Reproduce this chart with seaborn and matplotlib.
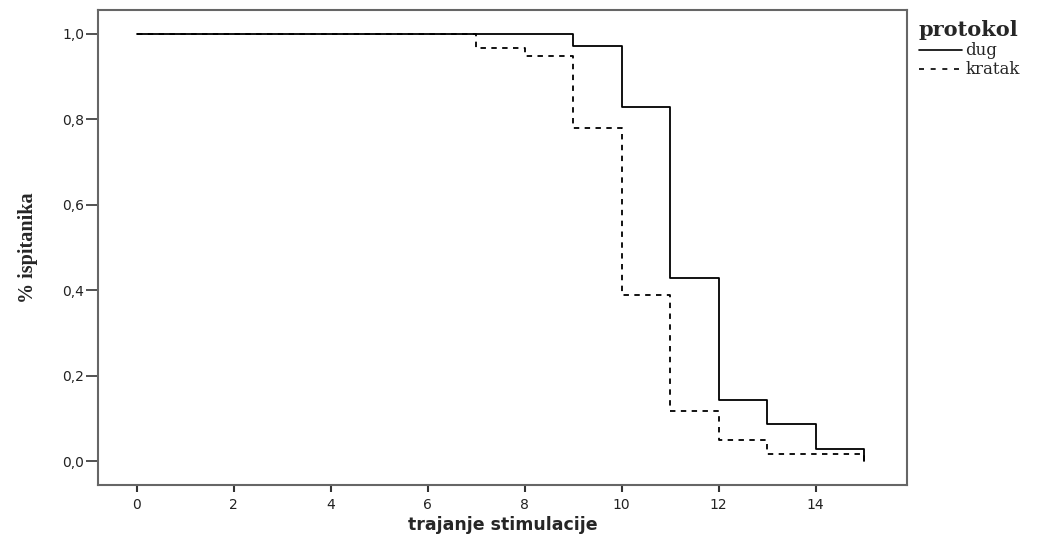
import matplotlib
matplotlib.use("Agg")
import matplotlib.pyplot as plt
import seaborn as sns
import pandas as pd
from matplotlib.lines import Line2D

# Data (Kaplan-Meier style step curves)
dug_t = [0, 9, 10, 11, 12, 13, 14, 15]
dug_s = [1.0, 0.972, 0.829, 0.429, 0.143, 0.086, 0.029, 0.0]
kratak_t = [0, 7, 8, 9, 10, 11, 12, 13, 15]
kratak_s = [1.0, 0.967, 0.948, 0.780, 0.389, 0.117, 0.049, 0.016, 0.0]
groups = ["dug", "kratak"]
x_ticks = [0, 2, 4, 6, 8, 10, 12, 14]
y_ticks = [0.0, 0.2, 0.4, 0.6, 0.8, 1.0]
y_tick_labels = ["0,0", "0,2", "0,4", "0,6", "0,8", "1,0"]

df = pd.concat([
    pd.DataFrame({"t": dug_t, "s": dug_s, "protokol": groups[0]}),
    pd.DataFrame({"t": kratak_t, "s": kratak_s, "protokol": groups[1]}),
], ignore_index=True)

sns.set_theme(style="white")
plt.rcParams["font.family"] = ["DejaVu Sans"]

fig = plt.figure(figsize=(10.37, 5.37), dpi=100)
ax = fig.add_axes([0.0945, 0.0968, 0.78, 0.8846])

sns.lineplot(data=df, x="t", y="s", style="protokol", drawstyle="steps-post",
             color="black", dashes={"dug": "", "kratak": (3, 3)},
             estimator=None, linewidth=1.3, legend=False, ax=ax)

ax.set_xlim(-0.8, 15.88)
ax.set_ylim(-0.056, 1.056)
ax.set_xticks(x_ticks)
ax.set_xticklabels([str(v) for v in x_ticks], family="DejaVu Sans")
ax.set_yticks(y_ticks)
ax.set_yticklabels(y_tick_labels, family="DejaVu Sans")
ax.tick_params(axis="x", direction="out", length=5, width=1.5, color="#333333",
               labelsize=10, labelcolor="#222222", bottom=True, pad=4)
ax.tick_params(axis="y", direction="out", length=9, width=1.2, color="#333333",
               labelsize=10, labelcolor="#222222", left=True, pad=1)
for sp in ax.spines.values():
    sp.set_color("#666666")
    sp.set_linewidth(1.5)

ax.set_xlabel("trajanje stimulacije", fontsize=12.5, fontweight="bold", labelpad=3,
              family="DejaVu Sans")
ax.set_ylabel("% ispitanika", fontsize=14.5, family=["Liberation Serif"],
              fontweight="bold", labelpad=17)

handles = [Line2D([0], [0], color="black", lw=1.2),
           Line2D([0], [0], color="black", lw=1.2, dashes=(3, 4))]
leg = fig.legend(handles, groups, title="protokol", loc="upper left",
                 bbox_to_anchor=(0.886, 0.962), frameon=False,
                 prop={"family": "DejaVu Serif", "size": 12},
                 handlelength=2.6, handletextpad=0.2, labelspacing=0.12,
                 borderaxespad=0.0, borderpad=0.0, alignment="left")
leg.get_title().set_fontfamily("DejaVu Serif")
leg.get_title().set_fontweight("bold")
leg.get_title().set_fontsize(15)

fig.savefig("out.png", dpi=100)
